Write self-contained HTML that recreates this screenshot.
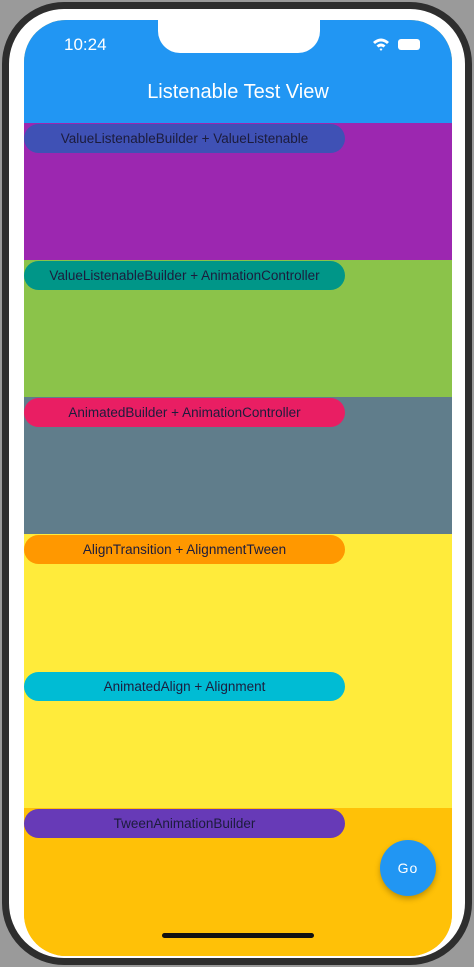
<!DOCTYPE html>
<html><head><meta charset="utf-8"><style>
*{margin:0;padding:0;box-sizing:border-box}
body{width:474px;height:967px;background:#9a9a9a;position:relative;overflow:hidden;font-family:"Liberation Sans",sans-serif}
.frame{position:absolute;left:2px;top:2px;width:470px;height:963px;border-radius:62px;background:#fff;border:7px solid #2e2e2e}
.screen{position:absolute;left:24px;top:20px;width:428px;height:936px;border-radius:42px;overflow:hidden;background:#ffc107}
.bar{position:absolute;left:0;top:0;width:428px;height:103px;background:#2196f3}
.notch{position:absolute;left:134px;top:0;width:162px;height:33px;background:#fff;border-radius:0 0 22px 22px}
.sec{position:absolute;left:0;width:428px}
.pill{position:absolute;left:0;width:321px;height:29px;border-radius:15px;font-size:13.5px;color:#1c1c3c;text-align:center;line-height:29px}
</style></head><body>
<div class="frame"></div>
<div class="screen">
 <div class="bar">
  <div style="position:absolute;left:40px;top:15px;color:#fff;font-size:17px">10:24</div>
  <svg style="position:absolute;left:348px;top:17px" width="18" height="14" viewBox="0 0 18 14"><path d="M1 5 Q9 -2 17 5 L15 7 Q9 2 3 7Z M4.5 8.5 Q9 4.5 13.5 8.5 L11.5 10.5 Q9 8.5 6.5 10.5Z M9 14 L7.5 12 Q9 11 10.5 12Z" fill="#fff"/></svg>
  <div style="position:absolute;left:374px;top:19px;width:22px;height:11px;background:#fff;border-radius:3px"></div>
  <div style="position:absolute;left:0;width:428px;top:61px;text-align:center;color:#fff;font-size:20px">Listenable Test View</div>
 </div>
 <div class="notch"></div>
 <div class="sec" style="top:103px;height:137px;background:#9c27b0"><div class="pill" style="top:1px;background:#3f51b5">ValueListenableBuilder + ValueListenable</div></div>
 <div class="sec" style="top:240px;height:137px;background:#8bc34a"><div class="pill" style="top:1px;background:#009688">ValueListenableBuilder + AnimationController</div></div>
 <div class="sec" style="top:377px;height:137px;background:#607d8b"><div class="pill" style="top:1px;background:#e91e63">AnimatedBuilder + AnimationController</div></div>
 <div class="sec" style="top:514px;height:274px;background:#ffeb3b">
  <div class="pill" style="top:1px;background:#ff9800">AlignTransition + AlignmentTween</div>
  <div class="pill" style="top:138px;background:#00bcd4">AnimatedAlign + Alignment</div>
 </div>
 <div class="sec" style="top:788px;height:148px;background:#ffc107"><div class="pill" style="top:1px;background:#673ab7">TweenAnimationBuilder</div></div>
 <div style="position:absolute;left:356px;top:820px;width:56px;height:56px;border-radius:50%;background:#2196f3;color:#fff;font-size:14px;text-align:center;line-height:56px;letter-spacing:1px;box-shadow:0 3px 6px rgba(0,0,0,.25)">Go</div>
 <div style="position:absolute;left:138px;top:913px;width:152px;height:5px;border-radius:3px;background:#111"></div>
</div>
</body></html>
